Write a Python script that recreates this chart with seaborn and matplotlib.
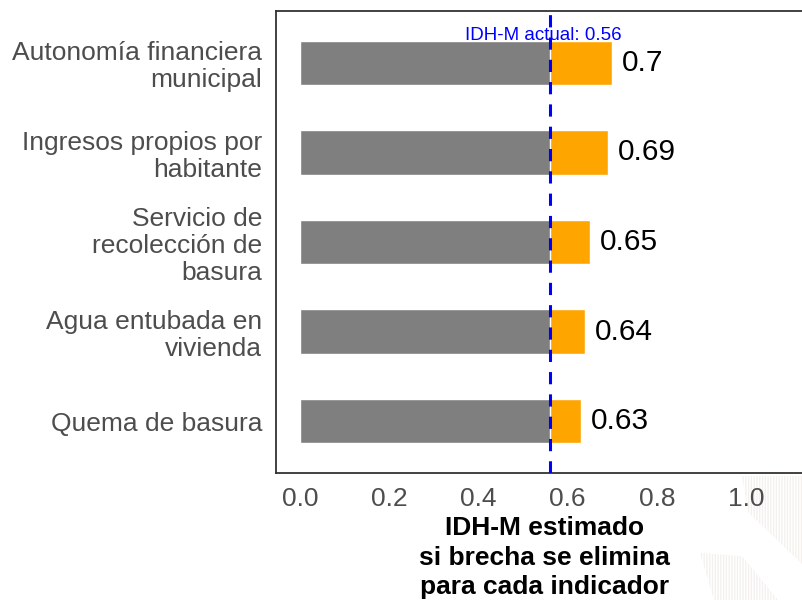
import matplotlib
matplotlib.use("Agg")
import matplotlib.pyplot as plt
from matplotlib.patches import Polygon
import seaborn as sns
import pandas as pd

# Indicators and estimated IDH-M if each gap were closed
indicadores = [
    "Autonomía financiera\nmunicipal",
    "Ingresos propios por\nhabitante",
    "Servicio de\nrecolección de\nbasura",
    "Agua entubada en\nvivienda",
    "Quema de basura",
]
idh_estimado = [0.70, 0.69, 0.65, 0.64, 0.63]
idh_actual = 0.56
x_ticks = [0.0, 0.2, 0.4, 0.6, 0.8, 1.0]

sns.set_theme(style="white")
plt.rcParams["font.family"] = ["Liberation Sans", "DejaVu Sans"]
plt.rcParams["hatch.linewidth"] = 0.9

df = pd.DataFrame({
    "indicador": indicadores,
    "estimado": idh_estimado,
    "actual": [idh_actual] * len(indicadores),
})

W, H = 803, 600
fig = plt.figure(figsize=(W / 100, H / 100), dpi=100)
# The panel runs past the right edge of the canvas, so no right border shows
ax = fig.add_axes([276 / W, 1 - 473 / H, (848 - 276) / W, 462 / H])
ax.set_zorder(1)

# Full bar up to the estimated value (orange), then the current level (grey) on top
sns.barplot(data=df, y="indicador", x="estimado", color="#FFA500",
            saturation=1, width=0.5, ax=ax, orient="h")
sns.barplot(data=df, y="indicador", x="actual", color="#7F7F7F",
            saturation=1, width=0.5, ax=ax, orient="h")

for i, v in enumerate(idh_estimado):
    ax.text(v + 0.022, i, f"{v:g}", va="center", ha="left",
            fontsize=21.5, color="black")

ax.axvline(idh_actual, color="#0000FF", lw=2.2, linestyle=(0, (4, 3.3)), zorder=5)
ax.text(idh_actual - 0.014, -0.31, f"IDH-M actual: {idh_actual}", color="#0000FF",
        ha="center", va="center", fontsize=13.5, zorder=6)

ax.set_xlim(-0.054, (848 - 300) / 446)
ax.set_ylim(len(indicadores) - 0.42, -0.58)
ax.set_xticks(x_ticks)
ax.set_xticklabels([f"{t:.1f}" for t in x_ticks])
ax.tick_params(axis="x", length=0, pad=10, labelsize=19, labelcolor="#4D4D4D")
ax.tick_params(axis="y", length=0, pad=10, labelsize=19, labelcolor="#4D4D4D")
for lab in ax.get_yticklabels():
    lab.set_linespacing(1.15)
    lab.set_horizontalalignment("right")
    lab.set_multialignment("right")

ax.set_ylabel("")
ax.set_xlabel("")
# Axis title centred under the visible panel
ax.text(0.548, -0.094, "IDH-M estimado\nsi brecha se elimina\npara cada indicador",
        transform=ax.get_xaxis_transform(), ha="center", va="top",
        fontsize=19, fontweight="bold", color="black", linespacing=1.27)

for s in ax.spines.values():
    s.set_color("#333333")
    s.set_linewidth(1.3)
ax.spines["right"].set_visible(False)

# Faint striped logo watermark in the lower-right corner, behind the panel
def fig_pt(x, y):
    return (x / W, 1 - y / H)

wm_shapes = [
    [(742, 476), (803, 476), (803, 565), (748, 512)],
    [(700, 553), (742, 556), (778, 600), (714, 600)],
]
for shape in wm_shapes:
    fig.patches.append(Polygon([fig_pt(*p) for p in shape], closed=True,
                               transform=fig.transFigure, fill=False,
                               edgecolor="#F3F0ED", linewidth=0, hatch="||||||",
                               zorder=0))

fig.savefig("out.png", dpi=100)
